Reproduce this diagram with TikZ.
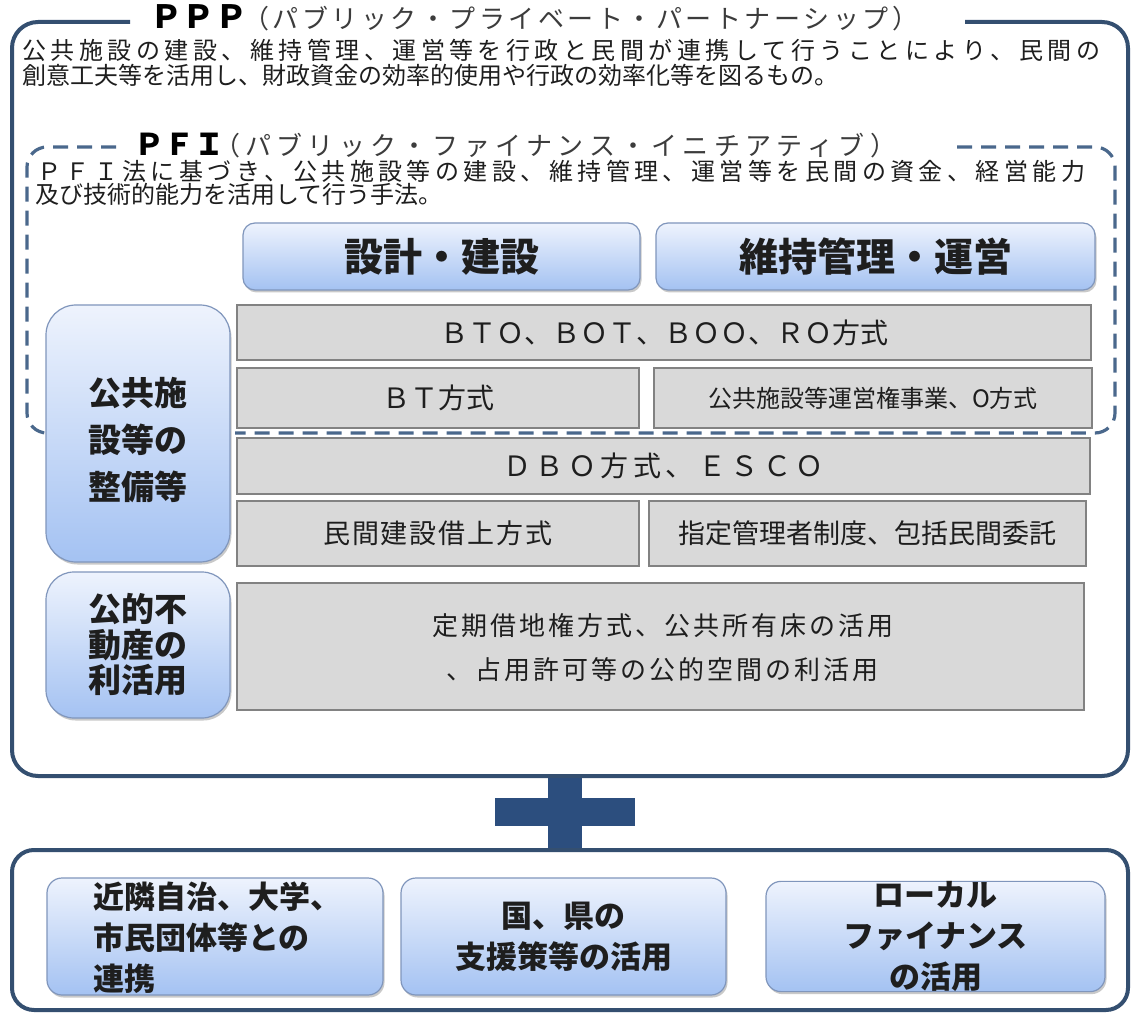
\documentclass[tikz,border=0pt]{standalone}
\usepackage{fontspec}
\setmainfont{Noto Sans CJK JP}
\usetikzlibrary{shadows}
\definecolor{framec}{RGB}{52,79,112}
\definecolor{pfic}{RGB}{74,104,140}
\definecolor{btop}{RGB}{238,243,253}
\definecolor{bbot}{RGB}{164,194,242}
\definecolor{bborder}{RGB}{128,150,188}
\definecolor{gfill}{RGB}{217,217,217}
\definecolor{gborder}{RGB}{130,130,130}
\definecolor{txtc}{RGB}{30,30,30}
\definecolor{parenc}{RGB}{60,60,60}
\definecolor{plusc}{RGB}{44,78,126}
\makeatletter
\newcommand\spr[2]{\hbox to #1{\spr@a#2\relax}}
\def\spr@a#1{#1\spr@b}
\def\spr@b#1{\ifx#1\relax\else\hfil#1\expandafter\spr@b\fi}
\makeatother
\newcommand\fs[2]{\fontsize{#1pt}{#2pt}\selectfont}
\begin{document}
\begin{tikzpicture}[x=1pt,y=-1pt,
  ppp/.style={draw=framec, line width=4pt},
  pfi/.style={draw=pfic, line width=3.2pt, dash pattern=on 15pt off 9pt},
  bluebox/.style={draw=bborder, line width=1.2pt, top color=btop, bottom color=bbot,
    text=txtc, inner sep=0pt,
    drop shadow={shadow xshift=1.5pt, shadow yshift=-2.5pt, opacity=0.35, fill=black!60}},
  graybox/.style={draw=gborder, line width=1.2pt, fill=gfill, inner sep=0pt, text=txtc},
  txt/.style={inner sep=0pt, text=txtc}]
\useasboundingbox[fill=white] (0,0) rectangle (1133,1016);
% PPP frame
\draw[ppp, rounded corners=26] (130,22) -- (12,22) -- (12,776) -- (1128,776) -- (1128,22) -- (965,22);
\node[txt, anchor=west, font={\fs{32}{32}\bfseries}, text=black] (ppptitle) at (150,17) {\spr{97pt}{ＰＰＰ}};
\node[txt, anchor=west, font={\fs{26}{26}}, text=parenc] (pppparen) at (243,19) {\spr{675pt}{（パブリック・プライベート・パートナーシップ）}};
\node[txt, anchor=west, font={\fs{24}{24}}] (pppl1) at (22,50) {\spr{1078pt}{公共施設の建設、維持管理、運営等を行政と民間が連携して行うことにより、民間の}};
\node[txt, anchor=west, font={\fs{24}{24}}] (pppl2) at (22,75) {創意工夫等を活用し、財政資金の効率的使用や行政の効率化等を図るもの。};
% PFI title and text
\node[txt, anchor=west, font={\fs{30}{30}\bfseries}, text=black] (pfititle) at (134,144) {\spr{80pt}{ＰＦＩ}};
\node[txt, anchor=west, font={\fs{26}{26}}, text=parenc] (pfiparen) at (214,146) {\spr{682pt}{（パブリック・ファイナンス・イニチアティブ）}};
\node[txt, anchor=west, font={\fs{24}{24}}] (pfil1) at (37,171) {\spr{1048pt}{ＰＦＩ法に基づき、公共施設等の建設、維持管理、運営等を民間の資金、経営能力}};
\node[txt, anchor=west, font={\fs{24}{24}}] (pfil2) at (35,194) {及び技術的能力を活用して行う手法。};
% header boxes
\node[bluebox, rounded corners=12, minimum width=397pt, minimum height=67pt, font={\fs{39}{39}\bfseries}] (hdra) at (441.5,256.5) {設計・建設};
\node[bluebox, rounded corners=12, minimum width=439pt, minimum height=67pt, font={\fs{39}{39}\bfseries}] (hdrb) at (875.5,256.5) {維持管理・運営};
% gray rows
\node[graybox, minimum width=854pt, minimum height=55pt, font={\fs{28}{28}}] (rowa) at (664,332.5) {ＢＴＯ、ＢＯＴ、ＢＯＯ、ＲＯ方式};
\node[graybox, minimum width=402pt, minimum height=60pt, font={\fs{28}{28}}] (rowba) at (438,398) {ＢＴ方式};
\node[graybox, minimum width=438pt, minimum height=60pt, font={\fs{24}{24}}] (rowbb) at (873,398) {公共施設等運営権事業、O方式};
\node[graybox, minimum width=853pt, minimum height=56pt, font={\fs{28}{28}}] (rowc) at (663.5,466) {\spr{320pt}{ＤＢＯ方式、ＥＳＣＯ}};
\node[graybox, minimum width=402pt, minimum height=65pt, font={\fs{27}{27}}] (rowda) at (438,533.5) {\spr{230pt}{民間建設借上方式}};
\node[graybox, minimum width=437pt, minimum height=65pt, font={\fs{27}{27}}] (rowdb) at (867.5,533.5) {指定管理者制度、包括民間委託};
\node[graybox, minimum width=847pt, minimum height=127pt] (rowe) at (660.5,646.5) {};
\node[txt, anchor=west, align=left, font={\fs{26}{44}}] (rowet) at (432,648) {\spr{461pt}{定期借地権方式、公共所有床の活用}\\\hspace*{14pt}\spr{432pt}{、占用許可等の公的空間の利活用}};
% PFI dashed frame
\draw[pfi, rounded corners=20] (116,147) -- (27,147) -- (27,433) -- (42,433);
\draw[pfi, rounded corners=20] (957,147) -- (1115,147) -- (1115,433) -- (235,433);
% left boxes
\node[bluebox, rounded corners=30, minimum width=184pt, minimum height=257pt] (lefta) at (138,433.5) {};
\node[txt, align=center, font={\fs{33}{47}\bfseries}] (leftat) at (138,440) {公共施\\設等の\\整備等};
\node[bluebox, rounded corners=28, minimum width=184pt, minimum height=146pt, align=center, font={\fs{33}{35.5}\bfseries}] (leftb) at (138,645) {公的不\\動産の\\利活用};
% plus
\fill[plusc] (548,778) rectangle (582,848);
\fill[plusc] (495,798) rectangle (635,826);
% bottom frame
\draw[ppp, rounded corners=22] (12,850) rectangle (1128,1010);
\node[bluebox, rounded corners=15, minimum width=336pt, minimum height=117pt] (bota) at (215,936.5) {};
\node[txt, anchor=west, align=left, font={\fs{31}{41}\bfseries}] (botat) at (93,938) {近隣自治、大学、\\市民団体等との\\連携};
\node[bluebox, rounded corners=15, minimum width=325pt, minimum height=117pt, align=center, font={\fs{31}{41}\bfseries}] (botb) at (563.5,936.5) {国、県の\\支援策等の活用};
\node[bluebox, rounded corners=15, minimum width=339pt, minimum height=110pt, align=center, font={\fs{31}{41}\bfseries}] (botc) at (935.5,936.5) {ローカル\\ファイナンス\\の活用};
\end{tikzpicture}
\end{document}
